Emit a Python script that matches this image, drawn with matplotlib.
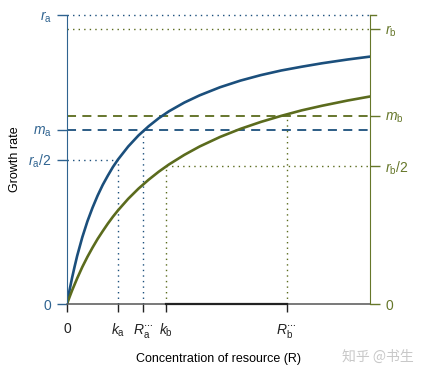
import matplotlib.pyplot as plt

plt.rcParams['font.family'] = ['Liberation Sans', 'DejaVu Sans']
plt.rcParams['mathtext.fontset'] = 'custom'
plt.rcParams['mathtext.it'] = 'Liberation Sans:italic'
plt.rcParams['mathtext.rm'] = 'Liberation Sans'

# Colours
blue = '#1b4f7c'
green = '#5b6b1d'
blue_txt = '#2f6390'
green_txt = '#66772a'

# Resource concentration (R) sample points
R = [0, 0.05, 0.1, 0.15, 0.2, 0.3, 0.4, 0.5, 0.6, 0.7, 0.8, 0.9, 1.0, 1.2, 1.4,
     1.6, 1.8, 2.0, 2.3, 2.6, 3.0, 3.4, 3.8, 4.2, 4.6, 5.0, 5.5, 5.94]
growth_a = [0, 0.048, 0.091, 0.130, 0.167, 0.231, 0.286, 0.333, 0.375, 0.412,
            0.444, 0.474, 0.500, 0.545, 0.583, 0.615, 0.643, 0.667, 0.697, 0.722,
            0.750, 0.773, 0.792, 0.808, 0.821, 0.833, 0.846, 0.856]
growth_b = [0, 0.024, 0.047, 0.068, 0.089, 0.128, 0.163, 0.195, 0.225, 0.252,
            0.278, 0.302, 0.324, 0.364, 0.399, 0.430, 0.458, 0.483, 0.516, 0.545,
            0.578, 0.606, 0.630, 0.651, 0.670, 0.686, 0.704, 0.718]

# Key levels
r_a, m_a = 1.0, 0.602
r_b, m_b = 0.952, 0.651
k_a, Rs_a, k_b, Rs_b = 1.0, 1.49, 1.94, 4.31
x_max = 5.94

left_labels = ['0', r'$r_{\rm a}/2$', r'$m_{\rm a}$', r'$r_{\rm a}$']
right_labels = ['0', r'$r_{\rm b}/2$', r'$m_{\rm b}$', r'$r_{\rm b}$']
x_labels = ['0', r'$k_{\rm a}$', r'$R_{\rm a}^{\cdots}$', r'$k_{\rm b}$', r'$R_{\rm b}^{\cdots}$']

fig = plt.figure(figsize=(4.22, 3.76), dpi=100)
ax = fig.add_axes([67/422, 72/376, 303/422, 289/376])
ax.set_xlim(0, x_max)
ax.set_ylim(0, r_a)

dot = (0, (1, 3))
dash = (0, (5, 3.5))

# reference lines
ax.plot([0, x_max], [r_a, r_a], color=blue, lw=1, ls=dot, clip_on=False)
ax.plot([0, x_max], [r_b, r_b], color=green, lw=1, ls=dot)
ax.plot([0, x_max], [m_b, m_b], color=green, lw=1.3, ls=dash)
ax.plot([0, x_max], [m_a, m_a], color=blue, lw=1.3, ls=dash)
ax.plot([0, k_a], [r_a/2, r_a/2], color=blue, lw=1, ls=dot)
ax.plot([k_a, k_a], [0, r_a/2], color=blue, lw=1, ls=dot)
ax.plot([Rs_a, Rs_a], [0, m_a], color=blue, lw=1, ls=dot)
ax.plot([k_b, x_max], [r_b/2, r_b/2], color=green, lw=1, ls=dot)
ax.plot([k_b, k_b], [0, r_b/2], color=green, lw=1, ls=dot)
ax.plot([Rs_b, Rs_b], [0, m_b], color=green, lw=1, ls=dot)

# growth curves
ax.plot(R, growth_a, color=blue, lw=1.9, solid_capstyle='round', solid_joinstyle='round')
ax.plot(R, growth_b, color=green, lw=1.9, solid_capstyle='round', solid_joinstyle='round')

# darker axis segment between k_b and R*_b
ax.plot([k_b, Rs_b], [0, 0], color='#222222', lw=1.6, clip_on=False, zorder=5)

for s in ['top', 'right']:
    ax.spines[s].set_visible(False)
ax.spines['left'].set_color(blue_txt)
ax.spines['bottom'].set_color('#555555')
ax.spines['bottom'].set_linewidth(1.1)

ax.set_yticks([0, r_a/2, m_a, r_a])
ax.set_yticklabels(left_labels, fontsize=10)
ax.tick_params(axis='y', colors=blue_txt, length=7, width=1, pad=4)
ax.set_xticks([0, k_a, Rs_a, k_b, Rs_b])
ax.set_xticklabels(x_labels, fontsize=10)
ax.tick_params(axis='x', colors='#222222', length=6, width=1, pad=7)
ax.set_ylabel('Growth rate', fontsize=9, labelpad=5)
ax.set_xlabel('Concentration of resource (R)', fontsize=9, labelpad=9)

ax2 = ax.twinx()
ax2.set_ylim(0, r_a)
for s in ['top', 'left', 'bottom']:
    ax2.spines[s].set_visible(False)
ax2.spines['right'].set_color(green_txt)
ax2.set_yticks([0, r_b/2, m_b, r_b])
ax2.set_yticklabels(right_labels, fontsize=10)
ax2.tick_params(axis='y', colors=green_txt, length=7, width=1, pad=4)
ax2.plot([x_max, x_max + 0.12], [r_a, r_a], color=green_txt, lw=1, clip_on=False)

fig.text(0.81, 0.04, '知乎 @书生', fontsize=10, color='#c8c8c8',
         family=['Noto Sans CJK SC', 'DejaVu Sans'])

fig.savefig('out.png', dpi=100)
